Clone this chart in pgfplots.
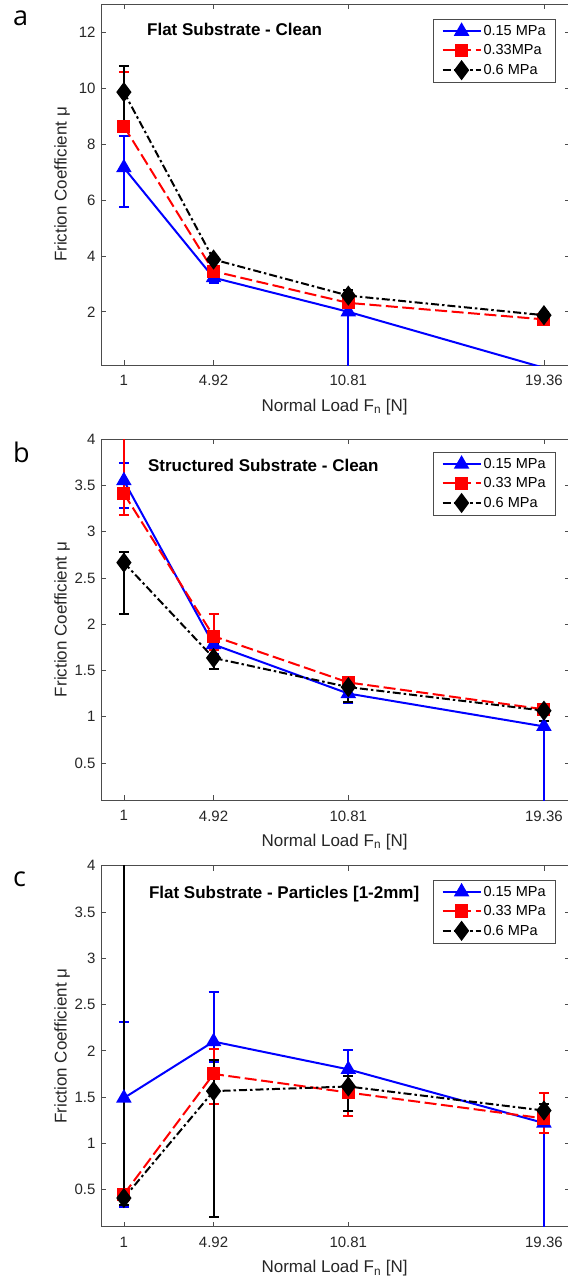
\documentclass[border=0pt]{standalone}
\usepackage{pgfplots}
\pgfplotsset{compat=1.18}
\usepackage{fontspec}
\setmainfont{Liberation Sans}
\newfontfamily\panelfont{Open Sans}
\definecolor{axgray}{RGB}{38,38,38}
\definecolor{mblue}{RGB}{0,0,255}
\definecolor{mred}{RGB}{255,0,0}
\pgfplotsset{
  myaxis/.style={
    scale only axis, width=469bp, height=361bp,
    xmin=0, xmax=20.5,
    xtick={1,4.92,10.81,19.36}, xticklabels={1,4.92,10.81,19.36},
    tick align=inside, major tick length=5bp,
    axis line style={black!70, line width=0.7bp},
    tick style={black!70, line width=0.7bp},
    /pgf/number format/assume math mode=true,
    /pgf/number format/fixed,
    tick label style={font=\fontsize{15bp}{17bp}\selectfont, text=axgray},
    xticklabel style={yshift=-7bp},
    yticklabel style={xshift=-2bp},
    label style={font=\fontsize{17bp}{19bp}\selectfont, text=axgray},
    xlabel={Normal Load F\textsubscript{n} [N]},
    ylabel={Friction Coefficient μ},
    xlabel style={at={(axis description cs:0.498,-0.116)}, anchor=center},
    ylabel style={at={(axis description cs:-0.0832,0.5)}, anchor=center},
    legend style={anchor=north east, draw=black!70, line width=0.6bp, fill=white,
      font=\fontsize{14.5bp}{16bp}\selectfont, text=black, inner xsep=8bp, inner ysep=4bp,
      row sep=3.5bp, cells={anchor=west}},
    legend cell align=left,
    legend image code/.code={\draw[#1, mark indices={2}] plot coordinates {(0bp,0bp) (19bp,0bp) (38bp,0bp)};},
    error bars/y dir=both, error bars/y explicit,
    error bars/error mark options={rotate=90, mark size=5bp, line width=2bp},
  },
  sblue/.style={mblue, solid, line width=2bp, mark=triangle*, mark size=7bp,
    mark options={solid, fill=mblue}, error bars/error bar style={mblue, solid, line width=2bp}},
  sred/.style={mred, line width=2bp, dash pattern=on 12bp off 4.5bp, mark=square*, mark size=5.5bp,
    mark options={solid, fill=mred}, error bars/error bar style={mred, solid, line width=2bp}},
  sblack/.style={black, line width=2bp, dash pattern=on 8bp off 3bp on 2.5bp off 3bp, mark=diamond*, mark size=8.5bp,
    mark options={solid, fill=black}, error bars/error bar style={black, solid, line width=2bp}},
}
\begin{document}
\begin{tikzpicture}
% ---------------- panel a
\begin{axis}[myaxis, at={(0bp,-365bp)}, anchor=south west,
  ymin=0.1, ymax=13, ytick={2,4,6,8,10,12},
  legend style={at={(axis description cs:0.970,0.958)}}]
\addplot+[sblue, mark indices={1,2,3}] table[x=x, y=y, y error plus=ep, y error minus=em] {
x y ep em
1 7.15 1.15 1.41
4.92 3.22 0.2 0.18
10.81 2.0 0.12 2.5
19.36 0.0 0 0
};
\addplot+[sred] table[x=x, y=y, y error plus=ep, y error minus=em] {
x y ep em
1 8.63 1.93 0.1
4.92 3.45 0.45 0.25
10.81 2.32 0.15 0.15
19.36 1.73 0.12 0.1
};
\addplot+[sblack] table[x=x, y=y, y error plus=ep, y error minus=em] {
x y ep em
1 9.85 0.92 1.16
4.92 3.87 0.1 0.7
10.81 2.58 0.2 0.3
19.36 1.88 0.12 0.12
};
\legend{0.15 MPa, 0.33MPa, 0.6 MPa}
\node[anchor=base west, inner sep=0pt, font=\fontsize{17bp}{19bp}\selectfont\bfseries] at (axis description cs:0.098,0.912) {Flat Substrate - Clean};
\end{axis}
% ---------------- panel b
\begin{axis}[myaxis, at={(0bp,-800bp)}, anchor=south west,
  ymin=0.1, ymax=4, ytick={0.5,1,1.5,2,2.5,3,3.5,4},
  legend style={at={(axis description cs:0.970,0.964)}}]
\addplot+[sblue] table[x=x, y=y, y error plus=ep, y error minus=em] {
x y ep em
1 3.55 0.19 0.30
4.92 1.78 0.13 0.1
10.81 1.25 0.08 0.1
19.36 0.895 0.06 1.0
};
\addplot+[sred] table[x=x, y=y, y error plus=ep, y error minus=em] {
x y ep em
1 3.41 0.7 0.23
4.92 1.87 0.24 0.15
10.81 1.37 0.05 0.05
19.36 1.08 0.04 0.04
};
\addplot+[sblack] table[x=x, y=y, y error plus=ep, y error minus=em] {
x y ep em
1 2.665 0.115 0.555
4.92 1.635 0.155 0.125
10.81 1.32 0.05 0.165
19.36 1.065 0.065 0.115
};
\legend{0.15 MPa, 0.33 MPa, 0.6 MPa}
\node[anchor=base west, inner sep=0pt, font=\fontsize{17bp}{19bp}\selectfont\bfseries] at (axis description cs:0.100,0.909) {Structured Substrate - Clean};
\end{axis}
% ---------------- panel c
\begin{axis}[myaxis, at={(0bp,-1226.7bp)}, anchor=south west,
  ymin=0.1, ymax=4, ytick={0.5,1,1.5,2,2.5,3,3.5,4},
  legend style={at={(axis description cs:0.970,0.961)}}]
\addplot+[sblue] table[x=x, y=y, y error plus=ep, y error minus=em] {
x y ep em
1 1.49 0.82 1.18
4.92 2.10 0.54 0.22
10.81 1.80 0.21 0.28
19.36 1.22 0.08 1.3
};
\addplot+[sred] table[x=x, y=y, y error plus=ep, y error minus=em] {
x y ep em
1 0.45 0.05 0.07
4.92 1.75 0.27 0.32
10.81 1.55 0.18 0.25
19.36 1.27 0.27 0.16
};
\addplot+[sblack] table[x=x, y=y, y error plus=ep, y error minus=em] {
x y ep em
1 0.41 3.8 0.07
4.92 1.565 0.335 1.355
10.81 1.615 0.115 0.265
19.36 1.355 0.075 0.075
};
\legend{0.15 MPa, 0.33 MPa, 0.6 MPa}
\node[anchor=base west, inner sep=0pt, font=\fontsize{17bp}{19bp}\selectfont\bfseries] at (axis description cs:0.102,0.908) {Flat Substrate - Particles [1-2mm]};
\end{axis}
% panel letters
\node[anchor=base west, inner sep=0pt, font=\fontsize{27bp}{30bp}\panelfont] at (-88bp,-25bp) {a};
\node[anchor=base west, inner sep=0pt, font=\fontsize{27bp}{30bp}\panelfont] at (-88bp,-462bp) {b};
\node[anchor=base west, inner sep=0pt, font=\fontsize{27bp}{30bp}\panelfont] at (-88bp,-886bp) {c};
\pgfresetboundingbox
\path[use as bounding box] (-101bp,-1286bp) rectangle (467bp,0bp);
\end{tikzpicture}
\end{document}
